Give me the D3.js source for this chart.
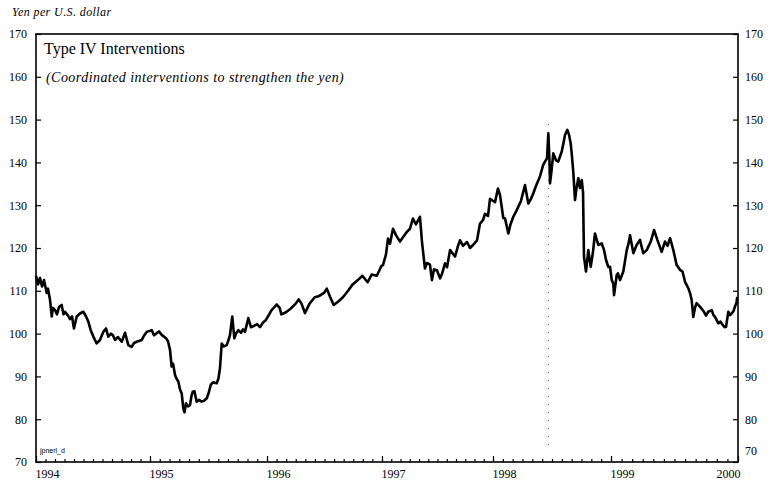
<!DOCTYPE html>
<html>
<head>
<meta charset="utf-8">
<script src="https://cdn.jsdelivr.net/npm/d3@7"></script>
<style>
  body { margin: 0; background: #fff; }
  svg { display: block; }
</style>
</head>
<body>
<div id="chart"></div>
<script>
// yen per dollar (time as fractional year)
const t1994 = [1994.000,1994.018,1994.035,1994.053,1994.070,1994.094,1994.105,1994.123,1994.138,1994.149,
  1994.167,1994.184,1994.202,1994.225,1994.241,1994.254,1994.281,1994.298,1994.316,1994.333,
  1994.357,1994.386,1994.415,1994.439,1994.459,1994.480,1994.503,1994.532,1994.561,1994.590,
  1994.614,1994.634,1994.658,1994.675,1994.693,1994.719,1994.752,1994.781,1994.810,1994.839,
  1994.860,1994.883,1994.927,1994.947,1994.971];
const yen1994 = [113.5,111.5,113,111,112.5,109.5,110.5,107.9,104,106,
  105.5,104.5,106.2,106.7,104.5,105.1,104.2,103.4,104,101.2,
  104,104.7,105.1,104,102.8,100.8,99.3,97.7,98.5,100.4,
  101.2,99.3,100,99.6,98.5,99.2,98.1,100.2,97.3,96.9,
  97.8,98.1,98.5,99.5,100.4];

const t1995 = [1995.015,1995.034,1995.057,1995.077,1995.100,1995.137,1995.154,1995.171,1995.185,1995.197,
  1995.214,1995.226,1995.242,1995.256,1995.271,1995.285,1995.295,1995.308,1995.325,1995.342,
  1995.355,1995.365,1995.380,1995.399,1995.419,1995.442,1995.462,1995.485,1995.500,1995.519,
  1995.538,1995.570,1995.585,1995.598,1995.613,1995.632,1995.656,1995.671,1995.684,1995.703,
  1995.721,1995.735,1995.755,1995.778,1995.795,1995.812,1995.840,1995.863,1995.889,1995.915,
  1995.940,1995.966,1995.991];
const yen1995 = [100.8,99.6,100.1,100.5,99.7,98.9,98.2,96.2,92.3,93,
  90.3,89.5,88.8,87,86,82.5,81.6,83.7,83.0,83.3,
  85.5,86.4,86.5,84.1,84.5,84.1,84.3,84.9,86,88,
  88.6,88.4,89.5,91.9,97.7,97,97.3,98.5,99.7,104,
  98.9,100,100.8,100.2,101,100.4,103.6,101.5,101.8,102.2,
  101.5,102.6,103.2];

const t1996 = [1996.040,1996.085,1996.110,1996.125,1996.165,1996.205,1996.250,1996.275,1996.300,1996.330,
  1996.370,1996.415,1996.455,1996.495,1996.520,1996.550,1996.580,1996.620,1996.660,1996.705,
  1996.745,1996.790,1996.830,1996.875,1996.910,1996.955,1996.995];
const yen1996 = [105.5,106.8,106,104.5,105,105.8,107,108,107,104.8,
  107,108.5,108.8,109.5,110.5,108.5,106.7,107.5,108.5,110,
  111.5,112.5,113.5,112,113.8,113.5,115.8];

const t1997 = [1997.009,1997.036,1997.054,1997.072,1997.099,1997.126,1997.162,1997.189,1997.225,1997.252,
  1997.279,1997.306,1997.342,1997.360,1997.387,1997.405,1997.432,1997.450,1997.468,1997.495,
  1997.523,1997.541,1997.568,1997.586,1997.613,1997.658,1997.685,1997.703,1997.730,1997.766,
  1997.793,1997.820,1997.856,1997.883,1997.910,1997.928,1997.955,1997.973];
const yen1997 = [116,118.5,122.2,121,124.5,123,121.5,122.5,123.8,124.5,
  126.9,125.5,127.3,121.5,115.2,116.5,116.1,112.5,115,114.8,
  112.9,114,116.4,115.5,119.5,118,120.5,121.8,120.5,121.4,
  120,120.7,121.8,125.7,126.5,128,127.5,131.5];

const t1998 = [1998.017,1998.042,1998.059,1998.076,1998.087,1998.102,1998.130,1998.148,1998.172,1998.195,
  1998.214,1998.237,1998.271,1998.299,1998.322,1998.342,1998.364,1998.398,1998.424,1998.441,
  1998.458,1998.469,1998.479,1998.483,1998.496,1998.511,1998.534,1998.553,1998.582,1998.597,
  1998.610,1998.630,1998.644,1998.658,1998.669,1998.681,1998.695,1998.708,1998.723,1998.737,
  1998.752,1998.763,1998.771,1998.788,1998.808,1998.828,1998.847,1998.864,1998.892,1998.921,
  1998.941,1998.958,1998.977,1998.992];
const yen1998 = [130.7,133.9,132.4,129.2,127,126.9,123.4,125.5,127.3,128.5,
  129.6,131,134.7,130.4,131.5,132.8,134.5,136.7,139.3,140.2,
  141,146.8,140,135.1,138,142.1,140.5,140.2,142.5,144.5,
  146.4,147.6,146.5,144.5,141.5,137.5,131.2,134,136.3,134,
  135.9,133,118,114.5,119.5,115.6,119,123.4,120.7,121.1,
  119.5,117.2,115.6,115.6];

const t1999 = [1999.006,1999.018,1999.024,1999.045,1999.055,1999.071,1999.097,1999.124,1999.138,1999.150,
  1999.176,1999.202,1999.228,1999.254,1999.281,1999.313,1999.339,1999.365,1999.399,1999.425,
  1999.445,1999.465,1999.491,1999.517,1999.543,1999.563,1999.583,1999.609,1999.622,1999.635,
  1999.648,1999.661,1999.674,1999.700,1999.732,1999.748,1999.766,1999.793,1999.807,1999.819,
  1999.845,1999.862,1999.880,1999.894,1999.906,1999.913,1999.924,1999.937,1999.950,1999.965,
  1999.976,1999.988,1999.994];
const yen1999 = [112.5,111.7,109,113.7,114.1,112.5,114.5,119.5,121,123,
  118.8,120.7,121.9,118.8,119.5,121.5,124.2,121.9,119.1,121.5,
  120.5,122.3,119.5,116,114.9,114.5,112.1,110.6,109.5,107.9,
  103.9,106,107.1,106.3,105.1,104.2,105.1,105.5,104.3,103.9,
  102.4,102.8,102,101.5,101.6,103,105.1,104.3,104.7,105.3,
  106.3,107.2,108.6];

const years = [1994, 1995, 1996, 1997, 1998, 1999, 2000];
const yTicks = [70, 80, 90, 100, 110, 120, 130, 140, 150, 160, 170];
const interventions = [1998.47];   // 17 June 1998

const width = 771, height = 484;
const plotLeft = 36, plotRight = 738, plotTop = 34, plotBottom = 462;
const serif = "Liberation Serif, Tinos, Noto Serif, DejaVu Serif, Times, serif";

const series = [[t1994, yen1994], [t1995, yen1995], [t1996, yen1996],
                [t1997, yen1997], [t1998, yen1998], [t1999, yen1999]];
const data = series.flatMap(([t, v]) => t.map((d, i) => ({t: d, v: v[i]})));

const svg = d3.select("#chart")
    .append("svg")
    .attr("width", width)
    .attr("height", height)
    .style("font-family", serif);

// year spacing on the original axis is not quite even
const x = d3.scaleLinear()
    .domain(years)
    .range([plotLeft, 150, 267, 382, 493, 611, plotRight]);

const y = d3.scaleLinear()
    .domain([70, 170])
    .range([plotBottom, plotTop]);

const months = d3.range(0, 72).map(i => 1994 + i / 12);

svg.append("g")
    .attr("class", "axis")
    .attr("transform", `translate(0,${plotBottom})`)
    .call(d3.axisBottom(x).tickValues(months).tickSize(-3).tickFormat(""));

const xAxis = svg.append("g")
    .attr("class", "axis")
    .attr("transform", `translate(0,${plotBottom})`)
    .call(d3.axisBottom(x).tickValues(years).tickSize(-6).tickPadding(7).tickFormat(d3.format("d")));
xAxis.selectAll("text")
    .attr("text-anchor", d => d === 2000 ? "end" : "start")
    .attr("dx", d => d === 2000 ? "2" : "-1");

svg.append("g")
    .attr("class", "axis")
    .attr("transform", `translate(${plotLeft},0)`)
    .call(d3.axisLeft(y).tickValues(yTicks).tickSize(-5).tickPadding(9));

const yRight = svg.append("g")
    .attr("class", "axis")
    .attr("transform", `translate(${plotRight},0)`)
    .call(d3.axisRight(y).tickValues(yTicks).tickSize(-5).tickPadding(7));
yRight.selectAll("text").filter(d => d === 70).attr("dy", "-0.6em");

svg.selectAll(".axis").attr("font-family", null).attr("font-size", 12);
svg.selectAll(".axis .domain").remove();
svg.selectAll(".axis line").attr("stroke", "#000").attr("stroke-width", 1.2);
svg.selectAll(".axis text").attr("fill", "#000");

svg.append("rect")
    .attr("x", plotLeft)
    .attr("y", plotTop)
    .attr("width", plotRight - plotLeft)
    .attr("height", plotBottom - plotTop)
    .attr("fill", "none")
    .attr("stroke", "#000")
    .attr("stroke-width", 1.6);

// intervention marker
svg.selectAll(".intervention")
    .data(interventions)
    .enter()
    .append("line")
    .attr("class", "intervention")
    .attr("x1", d => x(d))
    .attr("x2", d => x(d))
    .attr("y1", y(149))
    .attr("y2", y(73))
    .attr("stroke", "#444")
    .attr("stroke-width", 1)
    .attr("stroke-dasharray", "1,7");

const line = d3.line()
    .x(d => x(d.t))
    .y(d => y(d.v));

svg.append("path")
    .datum(data)
    .attr("d", line)
    .attr("fill", "none")
    .attr("stroke", "#000")
    .attr("stroke-width", 2.6)
    .attr("stroke-linejoin", "round");

svg.append("text")
    .attr("x", 12)
    .attr("y", 16)
    .attr("font-style", "italic")
    .attr("font-size", 12)
    .attr("letter-spacing", 0.4)
    .text("Yen per U.S. dollar");

svg.append("text")
    .attr("x", 44)
    .attr("y", 54)
    .attr("font-size", 16)
    .text("Type IV Interventions");

svg.append("text")
    .attr("x", 46)
    .attr("y", 82)
    .attr("font-style", "italic")
    .attr("font-size", 14)
    .attr("letter-spacing", 0.45)
    .text("(Coordinated interventions to strengthen the yen)");

svg.append("text")
    .attr("x", 40)
    .attr("y", 453)
    .attr("font-family", "Liberation Sans, Arial, sans-serif")
    .attr("font-size", 7)
    .text("jpnerl_d");
</script>
</body>
</html>
